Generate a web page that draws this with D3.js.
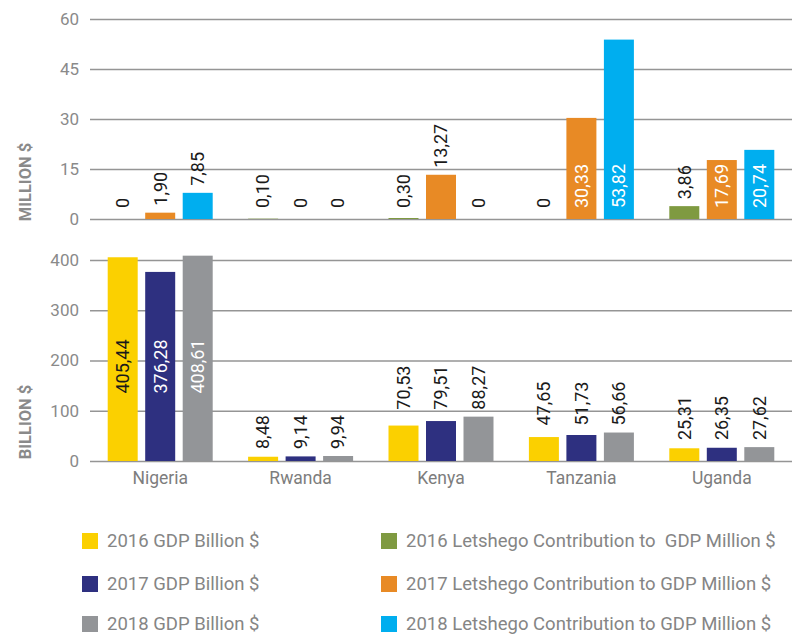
<!DOCTYPE html>
<html>
<head>
<meta charset="utf-8">
<script src="https://cdn.jsdelivr.net/npm/d3@7"></script>
<style>
    html, body { margin: 0; padding: 0; background: #fff; }
    svg { display: block; font-family: Roboto, "Open Sans", sans-serif; }
</style>
</head>
<body>
<div id="chart"></div>
<script>
"use strict";

// categories
const countries = ["Nigeria", "Rwanda", "Kenya", "Tanzania", "Uganda"];

// GDP, billion $
const gdp2016 = [405.44, 8.48, 70.53, 47.65, 25.31];
const gdp2017 = [376.28, 9.14, 79.51, 51.73, 26.35];
const gdp2018 = [408.61, 9.94, 88.27, 56.66, 27.62];

// Letshego contribution to GDP, million $
const contrib2016 = [0, 0.10, 0.30, 0, 3.86];
const contrib2017 = [1.90, 0, 13.27, 30.33, 17.69];
const contrib2018 = [7.85, 0, 0, 53.82, 20.74];

// tick labels
const millionTicks = [0, 15, 30, 45, 60];
const billionTicks = [0, 100, 200, 300, 400];

// legend labels
const legendGdp = ["2016 GDP Billion $", "2017 GDP Billion $", "2018 GDP Billion $"];
const legendContrib = [
    "2016 Letshego Contribution to  GDP Million $",
    "2017 Letshego Contribution to GDP Million $",
    "2018 Letshego Contribution to GDP Million $"
];

const gdpColors = ["#fbd000", "#2e3080", "#939598"];
const gdpLabelColors = ["#1a1a1a", "#ffffff", "#ffffff"];
const contribColors = ["#7f9a41", "#e88a25", "#00aeef"];

const width = 793, height = 635;
const left = 90, right = 792;

const svg = d3.select("#chart")
    .append("svg")
    .attr("width", width)
    .attr("height", height);

// category scale + bar-in-group scale
const x0 = d3.scaleBand()
    .domain(countries)
    .range([left, right])
    .padding(0);

const x1 = d3.scaleBand()
    .domain([0, 1, 2])
    .range([0, x0.bandwidth()])
    .paddingInner(0.2)
    .paddingOuter(0.472);

const fmt = (v) => v === 0 ? "0" : v.toFixed(2).replace(".", ",");

// draws one panel of grouped bars
const drawPanel = (cfg) => {
    const y = d3.scaleLinear().domain(cfg.domain).range(cfg.range);
    const y0 = y(0);

    // grid + tick labels
    const g = svg.append("g")
        .attr("transform", "translate(" + left + ",0)")
        .call(d3.axisLeft(y).tickValues(cfg.ticks).tickSize(-(right - left)).tickPadding(11));
    g.select(".domain").remove();
    g.selectAll(".tick line")
        .attr("stroke", "#959595")
        .attr("stroke-width", 1.6);
    g.selectAll(".tick text")
        .attr("fill", "#8a8a8a")
        .style("font-size", "17px")
        .style("font-family", "Roboto, sans-serif");

    // axis title
    svg.append("text")
        .attr("transform", "translate(31," + cfg.titleY + ") rotate(-90)")
        .attr("text-anchor", "middle")
        .attr("fill", "#8a8a8a")
        .style("font-size", "16.5px")
        .style("font-weight", "bold")
        .text(cfg.title);

    cfg.series.forEach((values, si) => {
        const bars = svg.append("g");
        bars.selectAll("rect")
            .data(values)
            .join("rect")
            .attr("x", (d, i) => x0(countries[i]) + x1(si))
            .attr("y", d => y(d))
            .attr("width", x1.bandwidth())
            .attr("height", d => y0 - y(d))
            .attr("fill", cfg.colors[si]);
    });

    // value labels
    cfg.series.forEach((values, si) => {
        values.forEach((v, i) => {
            const cx = x0(countries[i]) + x1(si) + x1.bandwidth() / 2;
            const t = svg.append("text")
                .attr("dy", "0.35em")
                .style("font-size", "18px")
                .text(fmt(v));
            const len = t.node().getComputedTextLength();
            const barH = y0 - y(v);
            const groupVals = cfg.series.map(s => s[i]);
            const inside = barH > len + 12;
            let ty, anchor, fill;
            if (cfg.mode === "base") {
                anchor = "start";
                if (inside) {
                    ty = y0 - 11;
                    fill = cfg.labelColors[si];
                } else {
                    ty = Math.min(y(v) - 7, y0 - 11);
                    fill = "#1a1a1a";
                }
            } else {
                if (inside) {
                    anchor = "middle";
                    ty = y(d3.min(groupVals) / 2);
                    fill = cfg.labelColors[si];
                } else {
                    anchor = "start";
                    ty = y(d3.max(groupVals)) - 7;
                    fill = "#1a1a1a";
                }
            }
            t.attr("text-anchor", anchor)
                .attr("fill", fill)
                .attr("transform", "translate(" + cx + "," + ty + ") rotate(-90)");
        });
    });

    return y;
};

// top panel: contribution, million $
drawPanel({
    domain: [0, 60],
    range: [219, 19],
    ticks: millionTicks,
    title: "MILLION $",
    titleY: 182,
    series: [contrib2016, contrib2017, contrib2018],
    colors: contribColors,
    labelColors: ["#ffffff", "#ffffff", "#ffffff"],
    mode: "base"
});

// bottom panel: GDP, billion $
drawPanel({
    domain: [0, 400],
    range: [461, 260],
    ticks: billionTicks,
    title: "BILLION $",
    titleY: 422,
    series: [gdp2016, gdp2017, gdp2018],
    colors: gdpColors,
    labelColors: gdpLabelColors,
    mode: "middle"
});

// country labels
const xAxis = svg.append("g")
    .attr("transform", "translate(0,461)")
    .call(d3.axisBottom(x0).tickSize(0).tickPadding(11));
xAxis.select(".domain").remove();
xAxis.selectAll("text")
    .attr("fill", "#7d7d7d")
    .style("font-size", "17.5px")
    .style("font-family", "Roboto, sans-serif");

// legend
const legendRows = [541, 584, 624];
const drawLegend = (labels, colors, lx) => {
    labels.forEach((label, i) => {
        svg.append("rect")
            .attr("x", lx)
            .attr("y", legendRows[i] - 8)
            .attr("width", 16)
            .attr("height", 16)
            .attr("fill", colors[i]);
        svg.append("text")
            .attr("x", lx + 25)
            .attr("y", legendRows[i])
            .attr("dy", "0.35em")
            .attr("fill", "#858585")
            .style("font-size", "18.5px")
            .style("white-space", "pre")
            .text(label);
    });
};
drawLegend(legendGdp, gdpColors, 82);
drawLegend(legendContrib, contribColors, 381);
</script>
</body>
</html>
